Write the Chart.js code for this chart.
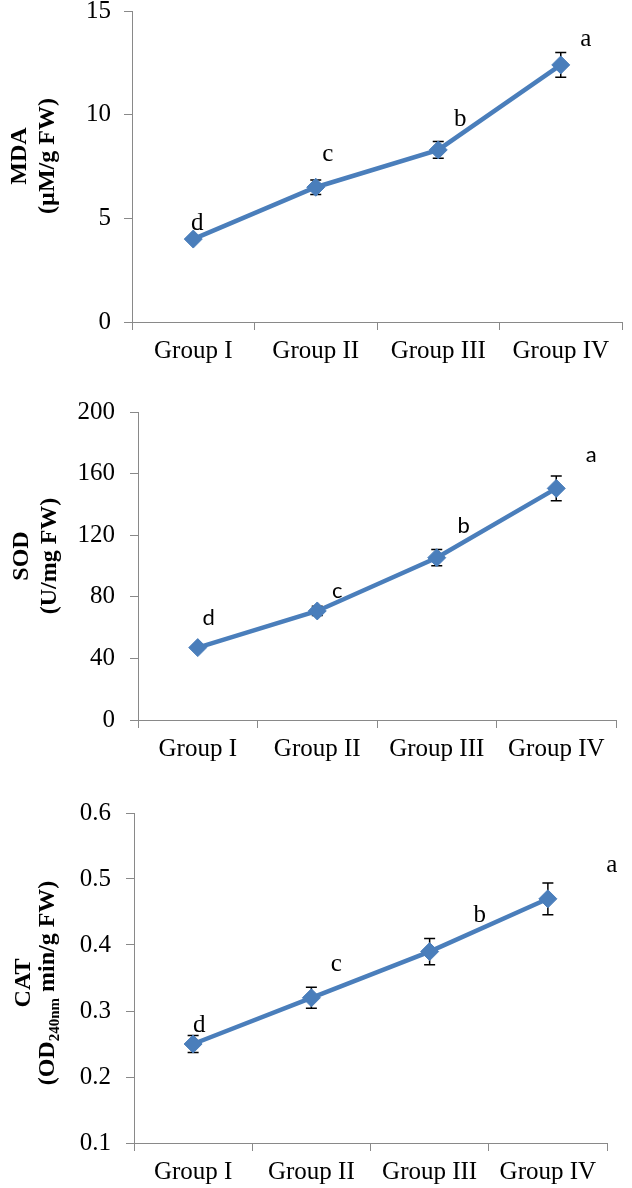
<!DOCTYPE html>
<html><head><meta charset="utf-8">
<script src="https://cdn.jsdelivr.net/npm/chart.js@4.4.0/dist/chart.umd.min.js"></script>
<style>
html,body{margin:0;padding:0;background:#fff;}
#wrap{position:relative;width:632px;height:1188px;overflow:hidden;background:#fff;}
canvas{position:absolute;left:0;}
</style></head><body>
<div id="wrap">
<canvas id="c1" width="632" height="380" style="top:0px"></canvas>
<canvas id="c2" width="632" height="400" style="top:380px"></canvas>
<canvas id="c3" width="632" height="408" style="top:780px"></canvas>
</div>
<script>
// ---- data ----
const groups = ['Group I', 'Group II', 'Group III', 'Group IV'];

const mdaValues = [4.0, 6.5, 8.3, 12.4];
const mdaErrors = [0.1, 0.35, 0.4, 0.6];
const mdaLetters = ['d', 'c', 'b', 'a'];
const mdaTicks = [0, 5, 10, 15];

const sodValues = [47, 70.8, 105.4, 150.4];
const sodErrors = [1.5, 3, 5.3, 8];
const sodLetters = ['d', 'c', 'b', 'a'];
const sodTicks = [0, 40, 80, 120, 160, 200];

const catValues = [0.25, 0.32, 0.39, 0.47];
const catErrors = [0.013, 0.016, 0.02, 0.024];
const catLetters = ['d', 'c', 'b', 'a'];
const catTicks = [0.1, 0.2, 0.3, 0.4, 0.5, 0.6];

// ---- styles ----
const BLUE = '#4A7EBB';
const AXIS = '#898989';
const SERIF = "'Liberation Serif','Times New Roman',serif";
const SANS = "Lato,'Open Sans',sans-serif";
const FS = 25;

const errPlugin = {
  id: 'errbars',
  beforeDatasetsDraw(chart, args, opts) {
    const meta = chart.getDatasetMeta(0);
    const ys = chart.scales.y;
    const vals = chart.data.datasets[0].data;
    const ctx = chart.ctx;
    ctx.save();
    ctx.strokeStyle = '#000';
    ctx.lineWidth = 1.5;
    meta.data.forEach((pt, i) => {
      const e = opts.errors[i];
      const y1 = ys.getPixelForValue(vals[i] + e);
      const y2 = ys.getPixelForValue(vals[i] - e);
      const x = pt.x, w = 5.5;
      ctx.beginPath();
      ctx.moveTo(x, y1); ctx.lineTo(x, y2);
      ctx.moveTo(x - w, y1); ctx.lineTo(x + w, y1);
      ctx.moveTo(x - w, y2); ctx.lineTo(x + w, y2);
      ctx.stroke();
    });
    ctx.restore();
  }
};

const letterPlugin = {
  id: 'letters',
  afterDatasetsDraw(chart, args, opts) {
    const meta = chart.getDatasetMeta(0);
    const ctx = chart.ctx;
    ctx.save();
    ctx.fillStyle = '#000';
    ctx.font = opts.font;
    ctx.textAlign = 'center';
    ctx.textBaseline = 'alphabetic';
    meta.data.forEach((pt, i) => {
      const off = opts.offsets[i];
      ctx.fillText(opts.letters[i], pt.x + off[0], pt.y + off[1]);
    });
    ctx.restore();
  }
};

const titlePlugin = {
  id: 'ytitle',
  afterDraw(chart, args, opts) {
    const ctx = chart.ctx;
    const size = opts.size;
    ctx.save();
    ctx.fillStyle = '#000';
    opts.lines.forEach((runs, li) => {
      ctx.save();
      ctx.translate(opts.xs[li], opts.cy);
      ctx.rotate(-Math.PI / 2);
      ctx.textBaseline = 'alphabetic';
      ctx.textAlign = 'left';
      let total = 0;
      runs.forEach(r => {
        ctx.font = 'bold ' + (r.sub ? Math.round(size * 0.62) : size) + 'px ' + SERIF;
        r.w = ctx.measureText(r.t).width;
        total += r.w;
      });
      let x = -total / 2;
      const base = size * 0.33;
      runs.forEach(r => {
        ctx.font = 'bold ' + (r.sub ? Math.round(size * 0.62) : size) + 'px ' + SERIF;
        ctx.fillText(r.t, x, base + (r.sub ? size * 0.22 : 0));
        x += r.w;
      });
      ctx.restore();
    });
    ctx.restore();
  }
};

function makeChart(id, cfg) {
  new Chart(document.getElementById(id), {
    type: 'line',
    data: {
      labels: groups,
      datasets: [{
        data: cfg.values,
        borderColor: BLUE,
        backgroundColor: BLUE,
        borderWidth: 4.5,
        pointStyle: 'rectRot',
        pointRadius: 9,
        pointHoverRadius: 9,
        pointBackgroundColor: BLUE,
        pointBorderColor: BLUE,
        pointBorderWidth: 1,
        tension: 0,
        clip: false
      }]
    },
    options: {
      responsive: false,
      animation: false,
      devicePixelRatio: 1,
      events: [],
      layout: { padding: { top: cfg.top, right: cfg.rightPad, left: 0, bottom: 0 } },
      plugins: {
        legend: { display: false },
        tooltip: { enabled: false },
        errbars: { errors: cfg.errors },
        letters: { letters: cfg.letters, offsets: cfg.letterOffsets, font: cfg.letterFont },
        ytitle: { lines: cfg.titleLines, xs: cfg.titleXs, cy: cfg.titleCy, size: 24 }
      },
      scales: {
        x: {
          type: 'category',
          offset: true,
          grid: { offset: true, drawOnChartArea: false, drawTicks: true, tickLength: 8, color: AXIS, lineWidth: 1 },
          border: { color: AXIS, width: 1 },
          ticks: { font: { family: SERIF, size: FS }, color: '#000', padding: 6, maxRotation: 0, autoSkip: false },
          afterFit(s) { s.height = cfg.xh; s.paddingLeft = 0; s.paddingRight = 0; }
        },
        y: {
          min: cfg.ticks[0],
          max: cfg.ticks[cfg.ticks.length - 1],
          grid: { drawOnChartArea: false, drawTicks: true, tickLength: 8, color: AXIS, lineWidth: 1 },
          border: { color: AXIS, width: 1 },
          ticks: {
            font: { family: SERIF, size: FS }, color: '#000', padding: cfg.yPad,
            callback: cfg.fmt
          },
          afterBuildTicks(s) { s.ticks = cfg.ticks.map(v => ({ value: v })); },
          afterFit(s) { s.width = cfg.axisX; s.paddingTop = 0; s.paddingBottom = 0; }
        }
      }
    },
    plugins: [errPlugin, letterPlugin, titlePlugin]
  });
}

makeChart('c1', {
  values: mdaValues, errors: mdaErrors, letters: mdaLetters, ticks: mdaTicks,
  top: 11, xh: 380 - 322, axisX: 132, rightPad: 2, yPad: 13,
  fmt: v => String(v),
  letterFont: '25px ' + SERIF,
  letterOffsets: [[4, -9], [12, -26], [22, -24], [25, -19]],
  titleLines: [[{ t: 'MDA' }], [{ t: '(\u00B5M/g FW)' }]],
  titleXs: [18, 46], titleCy: 156
});

makeChart('c2', {
  values: sodValues, errors: sodErrors, letters: sodLetters, ticks: sodTicks,
  top: 32, xh: 400 - 340, axisX: 138, rightPad: 16, yPad: 15,
  fmt: v => String(v),
  letterFont: '22px ' + SANS,
  letterOffsets: [[11, -23], [20, -13], [27, -25], [35, -26]],
  titleLines: [[{ t: 'SOD' }], [{ t: '(U/mg FW)' }]],
  titleXs: [20, 48], titleCy: 176
});

makeChart('c3', {
  values: catValues, errors: catErrors, letters: catLetters, ticks: catTicks,
  top: 33, xh: 408 - 363, axisX: 134, rightPad: 25, yPad: 15,
  fmt: v => Number(v).toFixed(1),
  letterFont: '25px ' + SERIF,
  letterOffsets: [[6, -12], [25, -27], [50, -30], [64, -27]],
  titleLines: [[{ t: 'CAT' }], [{ t: '(OD' }, { t: '240nm', sub: true }, { t: ' min/g FW)' }]],
  titleXs: [22, 46], titleCy: 203
});
</script>
</body></html>
